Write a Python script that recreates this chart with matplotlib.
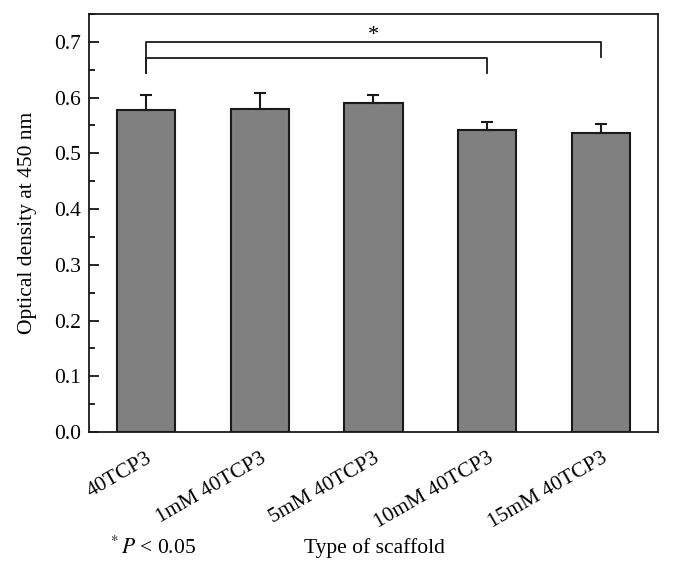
import numpy as np
from matplotlib import pyplot as plt
from matplotlib.ticker import MultipleLocator

# data
scaffolds = ['40TCP3', '1mM 40TCP3', '5mM 40TCP3', '10mM 40TCP3', '15mM 40TCP3']
density = [0.578, 0.580, 0.590, 0.542, 0.536]
density_err = [0.026, 0.029, 0.015, 0.015, 0.017]

# significance brackets: (from bar, to bar, height, end drop)
brackets = [(0, 4, 0.699, 0.672), (0, 3, 0.671, 0.644)]

plt.rcParams['font.family'] = ['Liberation Serif', 'DejaVu Serif']
plt.rcParams['mathtext.fontset'] = 'stix'
fs = 15.5

fig = plt.figure(figsize=(6.73, 5.74), dpi=100)
ax = fig.add_axes([0.1322, 0.2474, 0.8455, 0.7282])

x = np.arange(len(scaffolds))
ax.bar(x, density, width=0.51, color='#808080', edgecolor='#1a1a1a', linewidth=1.5, zorder=2)
ax.errorbar(x, density, yerr=[np.zeros(len(density)), density_err], fmt='none',
            ecolor='#1a1a1a', elinewidth=1.5, capsize=4, capthick=1.5, zorder=3)

# brackets
for a, b, h, low in brackets:
  ax.plot([a, a, b, b], [0.644, h, h, low], color='#1a1a1a', lw=1.3, zorder=3)
ax.text(2.0, 0.712, '*', ha='center', va='center', fontsize=16)

ax.set_xlim(-0.5, 4.5)
ax.set_ylim(0, 0.75)
ax.yaxis.set_minor_locator(MultipleLocator(0.05))
ax.set_yticks(np.arange(0, 0.71, 0.1))
ax.set_yticklabels(['%.1f' % v for v in np.arange(0, 0.71, 0.1)], fontsize=fs)
ax.tick_params(axis='y', which='major', direction='in', length=7, width=1.2, pad=6)
ax.tick_params(axis='y', which='minor', direction='in', length=4, width=1.2)
ax.set_xticks(x)
ax.set_xticklabels(scaffolds, rotation=30, ha='right', rotation_mode='anchor', fontsize=fs)
ax.tick_params(axis='x', length=0, pad=12)
for s in ax.spines.values():
  s.set_linewidth(1.3)
  s.set_color('#1a1a1a')

ax.set_ylabel('Optical density at 450 nm', fontsize=fs, labelpad=12)
fig.text(0.557, 0.045, 'Type of scaffold', ha='center', va='center', fontsize=fs)
fig.text(0.16, 0.045, r'$^*P$ < 0.05', ha='left', va='center', fontsize=fs)

plt.savefig('out.png', dpi=100)
